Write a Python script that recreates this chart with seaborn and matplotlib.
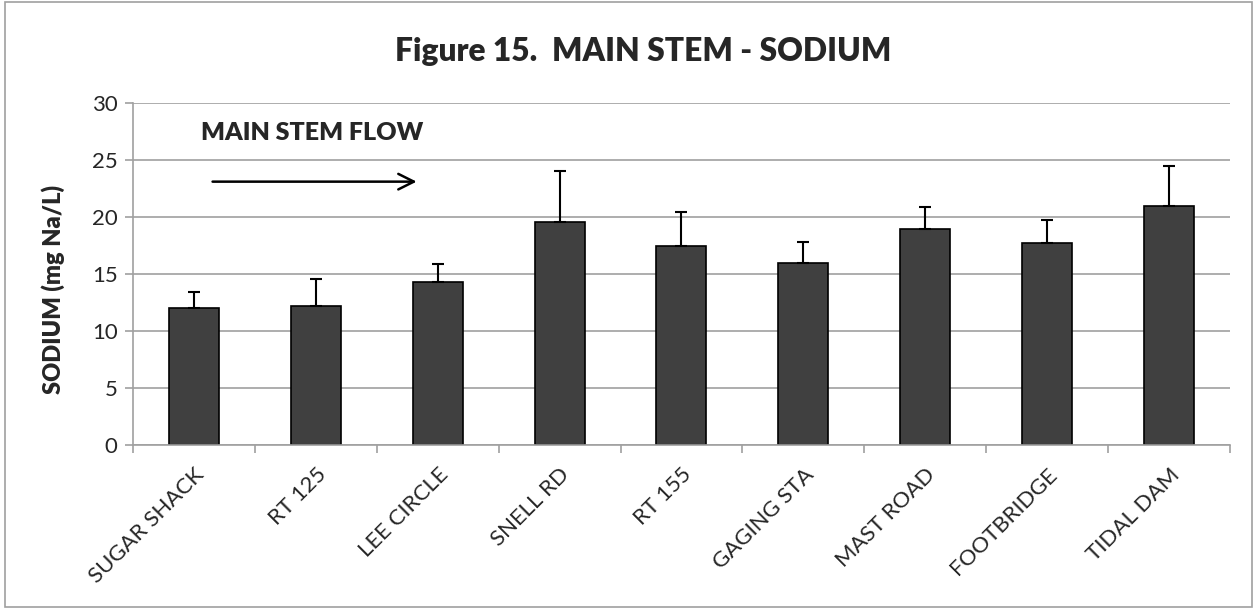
import matplotlib
matplotlib.use("Agg")
import matplotlib.pyplot as plt
import seaborn as sns
import pandas as pd
from matplotlib.patches import Rectangle

sites = ["SUGAR SHACK", "RT 125", "LEE CIRCLE", "SNELL RD", "RT 155",
         "GAGING STA", "MAST ROAD", "FOOTBRIDGE", "TIDAL DAM"]
sodium = [12.0, 12.15, 14.3, 19.6, 17.45, 16.0, 18.95, 17.75, 21.0]
sodium_err = [1.45, 2.45, 1.6, 4.4, 2.95, 1.8, 1.95, 1.95, 3.5]
y_ticks = [0, 5, 10, 15, 20, 25, 30]

sns.set_theme(style="white")
plt.rcParams["font.family"] = ["Lato", "DejaVu Sans"]

df = pd.DataFrame({"site": sites, "sodium": sodium})

fig = plt.figure(figsize=(12.57, 6.09), dpi=100)
ax = fig.add_axes([0.1058, 0.2693, 0.8727, 0.5616])

sns.barplot(data=df, x="site", y="sodium", color="#404040", saturation=1,
            width=0.41, edgecolor="black", linewidth=1.2, errorbar=None, ax=ax)
ax.errorbar(range(len(sites)), sodium,
            yerr=[[0] * len(sites), sodium_err],
            fmt="none", ecolor="black", elinewidth=1.5, capsize=4, capthick=1.5)

ax.set_ylim(0, 30)
ax.set_xlim(-0.5, len(sites) - 0.5)
ax.set_yticks(y_ticks)
ax.yaxis.grid(True, color="#a0a0a0", linewidth=1.2)
ax.set_axisbelow(True)
for s in ["top", "right"]:
    ax.spines[s].set_visible(False)
for s in ["left", "bottom"]:
    ax.spines[s].set_color("#a0a0a0")
    ax.spines[s].set_linewidth(1.2)

# category ticks sit between bars, Excel style
ax.set_xticks([i - 0.5 for i in range(len(sites) + 1)], minor=True)
ax.tick_params(axis="x", which="minor", length=6, color="#a0a0a0", width=1.2, bottom=True)
ax.tick_params(axis="x", which="major", length=0, labelsize=16, pad=14)
ax.tick_params(axis="y", length=6, color="#a0a0a0", width=1.2, left=True, labelsize=16, pad=5)
ax.set_xticks(range(len(sites)))
ax.set_xticklabels(sites, rotation=45, ha="right", rotation_mode="anchor")
ax.set_xlabel("")
ax.set_ylabel("SODIUM (mg Na/L)", fontsize=17, fontweight="heavy")
ax.yaxis.set_label_coords(-0.062, 0.455)

ax.text(0.06, 27.4, "MAIN STEM FLOW", fontsize=18, fontweight="heavy", va="center")
ax.annotate("", xy=(1.85, 23.1), xytext=(0.13, 23.1),
            arrowprops=dict(arrowstyle="->", color="black", lw=1.8, mutation_scale=28))

fig.text(0.512, 0.915, "Figure 15.  MAIN STEM - SODIUM", fontsize=22.9,
         fontweight="heavy", ha="center", va="center")

fig.patches.append(Rectangle((0.004, 0.004), 0.992, 0.992, transform=fig.transFigure,
                             fill=False, edgecolor="#a0a0a0", linewidth=1.2))

fig.savefig("out.png", dpi=100)
